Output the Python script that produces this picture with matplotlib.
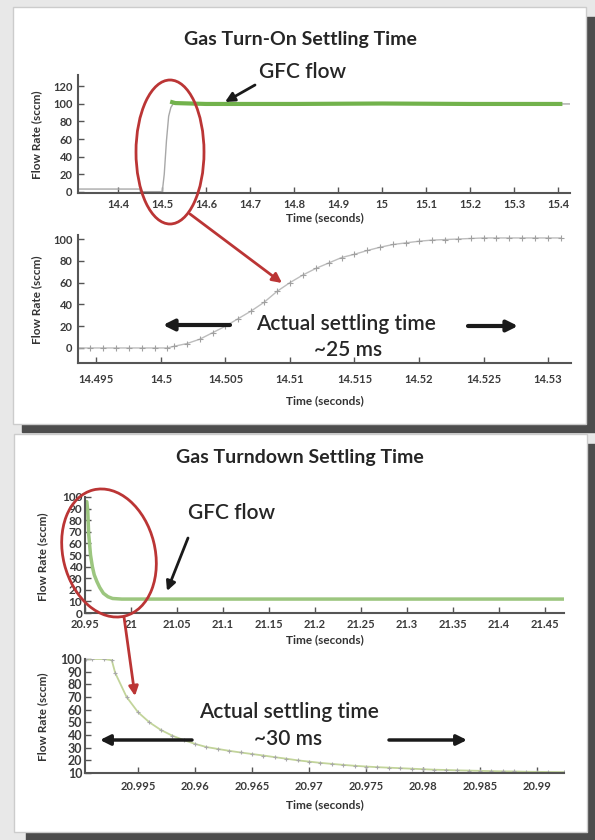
import numpy as np
import matplotlib.pyplot as plt
from matplotlib.patches import Rectangle, Ellipse

plt.rcParams['font.family'] = ['Lato', 'DejaVu Sans']

# ---- data ----
# turn-on, overview (gray raw trace + green GFC flow)
on_t_gray = [14.309, 14.45, 14.4505, 14.5005, 14.505, 14.51, 14.515, 14.52, 14.525, 14.53, 15.427]
on_v_gray = [3, 3, 0, 0, 20, 58, 86, 96, 100, 101, 100]
on_t_green = [14.523, 14.53, 14.6, 14.8, 15.0, 15.2, 15.405]
on_v_green = [102, 101, 100, 100, 100.5, 100, 100]
on_xticks = [14.4, 14.5, 14.6, 14.7, 14.8, 14.9, 15.0, 15.1, 15.2, 15.3, 15.4]
on_xlabels = ['14.4', '14.5', '14.6', '14.7', '14.8', '14.9', '15', '15.1', '15.2', '15.3', '15.4']
on_yticks = [0, 20, 40, 60, 80, 100, 120]

# turn-on, zoomed
onz_t = [14.4935, 14.4945, 14.4955, 14.4965, 14.4975, 14.4985, 14.4995, 14.5005,
         14.501, 14.502, 14.503, 14.504, 14.505, 14.506, 14.507, 14.508, 14.509,
         14.510, 14.511, 14.512, 14.513, 14.514, 14.515, 14.516, 14.517, 14.518,
         14.519, 14.520, 14.521, 14.522, 14.523, 14.524, 14.525, 14.526, 14.527,
         14.528, 14.529, 14.530, 14.531]
onz_v = [0, 0, 0, 0, 0, 0, 0, 0,
         1.5, 4, 8, 14, 20, 27, 34, 42, 52,
         60, 67, 73, 78, 83, 86, 89.5, 92.5, 95,
         96.5, 98, 99, 99.5, 100, 100.5, 101, 101, 101,
         101, 101, 101, 101]
onz_xticks = [14.495, 14.5, 14.505, 14.51, 14.515, 14.52, 14.525, 14.53]
onz_xlabels = ['14.495', '14.5', '14.505', '14.51', '14.515', '14.52', '14.525', '14.53']
onz_yticks = [0, 20, 40, 60, 80, 100]

# turndown, overview
dn_t = [20.9502, 20.952, 20.953, 20.954, 20.956, 20.958, 20.96, 20.963, 20.966,
        20.97, 20.975, 20.98, 20.99, 21.0, 21.1, 21.2, 21.3, 21.4, 21.4706]
dn_v = [96, 96, 88, 68, 50, 40, 33, 27, 22,
        17, 14, 12.5, 12, 12, 12, 12, 12, 12, 12]
dn_xticks = [20.95, 21.0, 21.05, 21.1, 21.15, 21.2, 21.25, 21.3, 21.35, 21.4, 21.45]
dn_xlabels = ['20.95', '21', '21.05', '21.1', '21.15', '21.2', '21.25', '21.3', '21.35', '21.4', '21.45']
dn_yticks = [0, 10, 20, 30, 40, 50, 60, 70, 80, 90, 100]

# turndown, zoomed
dnz_t = [20.9504, 20.951, 20.952, 20.9527, 20.953, 20.954, 20.955, 20.956, 20.957,
         20.958, 20.959, 20.960, 20.961, 20.962, 20.963, 20.964, 20.965, 20.966,
         20.967, 20.968, 20.969, 20.970, 20.971, 20.972, 20.973, 20.974, 20.975,
         20.976, 20.977, 20.978, 20.979, 20.980, 20.981, 20.982, 20.983, 20.984,
         20.985, 20.986, 20.987, 20.988, 20.989, 20.990, 20.991, 20.9924]
dnz_v = [100, 100, 100, 99, 89, 70, 58, 50, 44,
         39.5, 36, 33, 30.5, 29, 27.5, 26.2, 25, 23.8,
         22.5, 21.3, 20, 19, 18, 17.2, 16.4, 15.7, 15.1,
         14.6, 14.2, 13.8, 13.4, 13, 12.6, 12.4, 12.1, 11.9,
         11.7, 11.5, 11.3, 11.2, 11, 10.9, 10.8, 10.7]
dnz_xticks = [20.955, 20.96, 20.965, 20.97, 20.975, 20.98, 20.985, 20.99]
dnz_xlabels = ['20.995', '20.96', '20.965', '20.97', '20.975', '20.98', '20.985', '20.99']
dnz_yticks = [10, 20, 30, 40, 50, 60, 70, 80, 90, 100]

W, H = 595, 840
fig = plt.figure(figsize=(W / 100, H / 100), dpi=100, facecolor='#e8e8e8')


def px_axes(l, t, r, b, z=1):
    return fig.add_axes([l / W, 1 - b / H, (r - l) / W, (b - t) / H], zorder=z)


# background layer in pixel coords (panels + shadows)
bg = px_axes(0, 0, W, H, z=0)
bg.set_xlim(0, W)
bg.set_ylim(H, 0)
bg.axis('off')
bg.add_patch(Rectangle((22, 17), 573, 415, color='#4d4d4d'))
bg.add_patch(Rectangle((13, 7), 573, 417, facecolor='white', edgecolor='#cccccc', lw=1))
bg.add_patch(Rectangle((26, 444), 569, 396, color='#4d4d4d'))
bg.add_patch(Rectangle((14, 434), 573, 398, facecolor='white', edgecolor='#cccccc', lw=1))

# foreground layer for titles, callouts and arrows
ov = px_axes(0, 0, W, H, z=10)
ov.set_xlim(0, W)
ov.set_ylim(H, 0)
ov.axis('off')
ov.patch.set_alpha(0)


def style(ax, pad_x, pad_y, ysize=8):
    ax.patch.set_alpha(0)
    for s in ['top', 'right']:
        ax.spines[s].set_visible(False)
    for s in ['left', 'bottom']:
        ax.spines[s].set_color('#555555')
        ax.spines[s].set_linewidth(1.5)
    ax.tick_params(direction='in', length=4, width=1, color='#555555', labelcolor='#3a3a3a')
    ax.tick_params(axis='x', pad=pad_x, labelsize=8)
    ax.tick_params(axis='y', pad=pad_y, labelsize=ysize)
    for lab in ax.get_xticklabels() + ax.get_yticklabels():
        lab.set_fontweight('bold')


def labels(ax, xl, yl, size=8.5):
    ax.set_xlabel('Time (seconds)', fontsize=size, fontweight='bold', color='#333333')
    ax.set_ylabel('Flow Rate (sccm)', fontsize=size, fontweight='bold', color='#333333')
    ax.xaxis.label.set_va('center')
    ax.yaxis.label.set_va('center')
    ax.xaxis.set_label_coords(xl[0], xl[1], transform=ov.transData)
    ax.yaxis.set_label_coords(yl[0], yl[1], transform=ov.transData)


# chart 1
ax1 = px_axes(78, 75, 570, 193)
ax1.plot(on_t_gray, on_v_gray, color='#a8a8a8', lw=1)
ax1.plot(on_t_green, on_v_green, color='#72b24c', lw=3)
ax1.set_xlim(14.309, 15.427)
ax1.set_ylim(-1.5, 133)
ax1.set_xticks(on_xticks, on_xlabels)
ax1.set_yticks(on_yticks)
style(ax1, 4, 4)
labels(ax1, (325, 218), (37, 135))

# chart 2
ax2 = px_axes(78, 235, 571, 363)
ax2.plot(onz_t, onz_v, color='#bdbdbd', lw=1, marker='+', ms=4, mec='#a0a0a0', mew=0.8)
ax2.set_xlim(14.49357, 14.53178)
ax2.set_ylim(-13.8, 103.7)
ax2.set_xticks(onz_xticks, onz_xlabels)
ax2.set_yticks(onz_yticks)
style(ax2, 8, 4)
labels(ax2, (325, 401), (37, 300))

# chart 3
ax3 = px_axes(85, 497, 564, 613)
ax3.plot(dn_t, dn_v, color='#9cc67f', lw=2.5)
ax3.set_xlim(20.9502, 21.4706)
ax3.set_ylim(0, 100)
ax3.set_xticks(dn_xticks, dn_xlabels)
ax3.set_yticks(dn_yticks)
style(ax3, 4.5, 2, ysize=8.5)
labels(ax3, (325, 640), (43, 557))

# chart 4
ax4 = px_axes(85, 659, 564, 773)
ax4.plot(dnz_t, dnz_v, color='#c2d49a', lw=1.3, marker='+', ms=3.5, mec='#a8a8a8', mew=0.8)
ax4.set_xlim(20.95035, 20.99237)
ax4.set_ylim(10, 100)
ax4.set_xticks(dnz_xticks, dnz_xlabels)
ax4.set_yticks(dnz_yticks)
style(ax4, 6, 2, ysize=9)
labels(ax4, (325, 805), (43, 717))

# titles and callouts
txt = dict(color='#262626', ha='center', va='center')
ov.text(300, 40, 'Gas Turn-On Settling Time', fontsize=14, fontweight='bold', **txt)
ov.text(300, 458, 'Gas Turndown Settling Time', fontsize=14, fontweight='bold', **txt)
ov.text(303, 72, 'GFC flow', fontsize=15, fontweight='semibold', **txt)
ov.text(232, 513, 'GFC flow', fontsize=15, fontweight='semibold', **txt)
ov.text(346, 324, 'Actual settling time', fontsize=15, fontweight='semibold', **txt)
ov.text(348, 350, '~25 ms', fontsize=15, fontweight='semibold', **txt)
ov.text(289, 712, 'Actual settling time', fontsize=15, fontweight='semibold', **txt)
ov.text(288, 739, '~30 ms', fontsize=15, fontweight='semibold', **txt)


def arrow(x0, y0, x1, y1, color='#1a1a1a', lw=2, hl=10):
    ov.annotate('', xy=(x1, y1), xytext=(x0, y0),
                arrowprops=dict(arrowstyle='-|>', color=color, lw=lw,
                                mutation_scale=hl, shrinkA=0, shrinkB=0))


arrow(255, 85, 225, 102, lw=2, hl=14)
arrow(188, 538, 167, 591, lw=2, hl=14)
arrow(230, 325, 163, 325, lw=3, hl=16)
arrow(468, 326, 518, 326, lw=3, hl=16)
arrow(192, 740, 100, 740, lw=2.5, hl=15)
arrow(389, 740, 467, 740, lw=2.5, hl=15)

red = '#bb3535'
ov.add_patch(Ellipse((170, 152), 68, 144, angle=0, fill=False, ec=red, lw=2))
ov.add_patch(Ellipse((109, 553), 92, 130, angle=-14, fill=False, ec=red, lw=2))
arrow(190, 214, 282, 283, color=red, lw=2, hl=14)
arrow(124, 617, 135, 696, color=red, lw=2, hl=14)

fig.savefig('out.png', dpi=100, facecolor=fig.get_facecolor())
